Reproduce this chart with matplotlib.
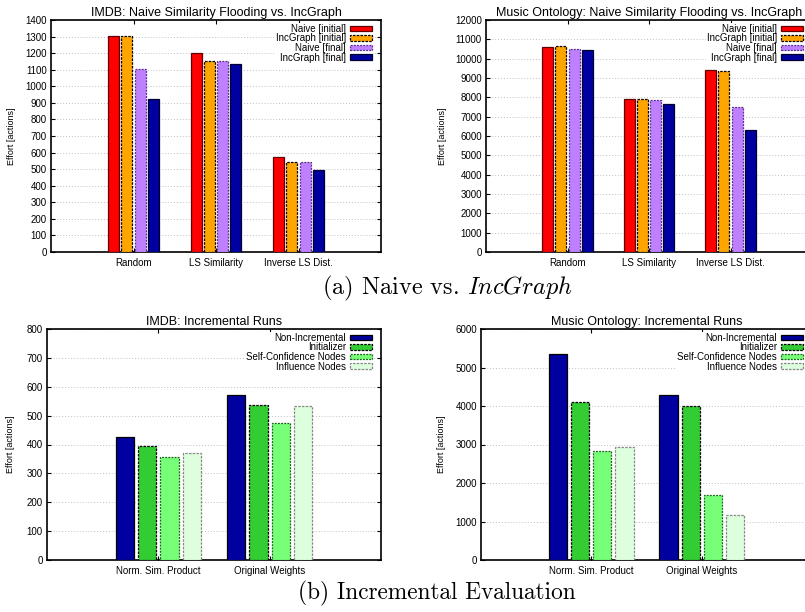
import numpy as np
import matplotlib
matplotlib.use('Agg')
import matplotlib.pyplot as plt

plt.rcParams['font.family'] = ['Liberation Sans', 'DejaVu Sans']
plt.rcParams['mathtext.fontset'] = 'cm'

# ---- data ----
top_cats = ['Random', 'LS Similarity', 'Inverse LS Dist.']
top_series = ['Naive [initial]', 'IncGraph [initial]', 'Naive [final]', 'IncGraph [final]']
imdb_naive_initial = [1305, 1200, 572]
imdb_inc_initial = [1305, 1150, 542]
imdb_naive_final = [1104, 1154, 542]
imdb_inc_final = [925, 1136, 495]
music_naive_initial = [10600, 7925, 9427]
music_inc_initial = [10630, 7908, 9376]
music_naive_final = [10497, 7873, 7511]
music_inc_final = [10446, 7666, 6319]

bot_cats = ['Norm. Sim. Product', 'Original Weights']
bot_series = ['Non-Incremental', 'Initializer', 'Self-Confidence Nodes', 'Influence Nodes']
imdb_nonincr = [425, 571]
imdb_initializer = [394, 536]
imdb_selfconf = [356, 474]
imdb_influence = [371, 534]
music_nonincr = [5351, 4286]
music_initializer = [4095, 3991]
music_selfconf = [2822, 1688]
music_influence = [2926, 1177]

# styles: face, edge, linestyle
top_styles = [('#ff0000', '#600000', 'solid'),
              ('#ffa500', '#000000', (0, (2, 1))),
              ('#bf80ff', '#5a2d8a', (0, (1.5, 1))),
              ('#0000a0', '#000030', 'solid')]
bot_styles = [('#0000a0', '#000000', 'solid'),
              ('#33cc33', '#000000', (0, (2, 1))),
              ('#77ff77', '#1f5f1f', (0, (1.5, 1))),
              ('#ddffdd', '#888888', (0, (2, 1)))]

W, H = 805, 612
fig = plt.figure(figsize=(W / 100, H / 100), dpi=100)


def axes_px(l, t, r, b):
    ax = fig.add_axes([l / W, 1 - b / H, (r - l) / W, (b - t) / H])
    ax.px_size = (r - l, b - t)
    return ax


def bar_chart(ax, cats, series, values, styles, step, width, ymax, ystep,
              title, ylab_x):
    x = np.arange(len(cats))
    n = len(series)
    for i, (name, vals, st) in enumerate(zip(series, values, styles)):
        off = (i - (n - 1) / 2) * step
        ax.bar(x + off, vals, width, color=st[0], edgecolor=st[1],
               linestyle=st[2], linewidth=0.9, label=name, zorder=3)
    ax.set_xlim(-1, len(cats))
    ax.set_ylim(0, ymax)
    ax.set_yticks(np.arange(0, ymax + 1, ystep))
    ax.set_xticks(x)
    ax.set_xticklabels(cats)
    ax.tick_params(direction='in', length=3, width=0.8, labelsize=7,
                   top=True, right=True, pad=3)
    ax.tick_params(axis='x', pad=4)
    ax.yaxis.grid(True, color='#c0c0c0', linestyle=(0, (1, 2)), linewidth=0.7)
    ax.set_axisbelow(True)
    for s in ax.spines.values():
        s.set_linewidth(1.2)
    ax.set_title(title, fontsize=9, pad=3)
    ax.set_ylabel('Effort [actions]', fontsize=6.5)
    ax.yaxis.set_label_coords(ylab_x, 0.5)
    wpx, hpx = ax.px_size
    leg = ax.legend(loc='upper right', bbox_to_anchor=(1 - 8 / wpx, 1 - 3 / hpx),
                    markerfirst=False, fontsize=7,
                    frameon=True, framealpha=1, facecolor='white',
                    edgecolor='none', fancybox=False, borderpad=0.1,
                    borderaxespad=0, labelspacing=-0.05, handlelength=2.3,
                    handleheight=0.5, handletextpad=0.4)
    leg.set_zorder(5)


ax1 = axes_px(51, 20, 381, 252)
bar_chart(ax1, top_cats, top_series,
          [imdb_naive_initial, imdb_inc_initial, imdb_naive_final, imdb_inc_final],
          top_styles, 0.16, 0.135, 1400, 100,
          'IMDB: Naive Similarity Flooding vs. IncGraph', -0.105)

ax2 = axes_px(486, 20, 812, 252)
bar_chart(ax2, top_cats, top_series,
          [music_naive_initial, music_inc_initial, music_naive_final, music_inc_final],
          top_styles, 0.16, 0.135, 12000, 1000,
          'Music Ontology: Naive Similarity Flooding vs. IncGraph', -0.12)

ax3 = axes_px(47, 329, 381, 560)
bar_chart(ax3, bot_cats, bot_series,
          [imdb_nonincr, imdb_initializer, imdb_selfconf, imdb_influence],
          bot_styles, 0.2, 0.165, 800, 100, 'IMDB: Incremental Runs', -0.095)

ax4 = axes_px(481, 329, 812, 560)
bar_chart(ax4, bot_cats, bot_series,
          [music_nonincr, music_initializer, music_selfconf, music_influence],
          bot_styles, 0.2, 0.165, 6000, 1000, 'Music Ontology: Incremental Runs', -0.105)

fig.text(448 / W, 1 - 288 / H, r'(a) Naive vs. $\mathit{IncGraph}$',
         family='cmr10', fontsize=17.5, ha='center', va='center')
fig.text(437 / W, 1 - 593 / H, '(b) Incremental Evaluation',
         family='cmr10', fontsize=16.8, ha='center', va='center')

fig.savefig('out.png', dpi=100)
